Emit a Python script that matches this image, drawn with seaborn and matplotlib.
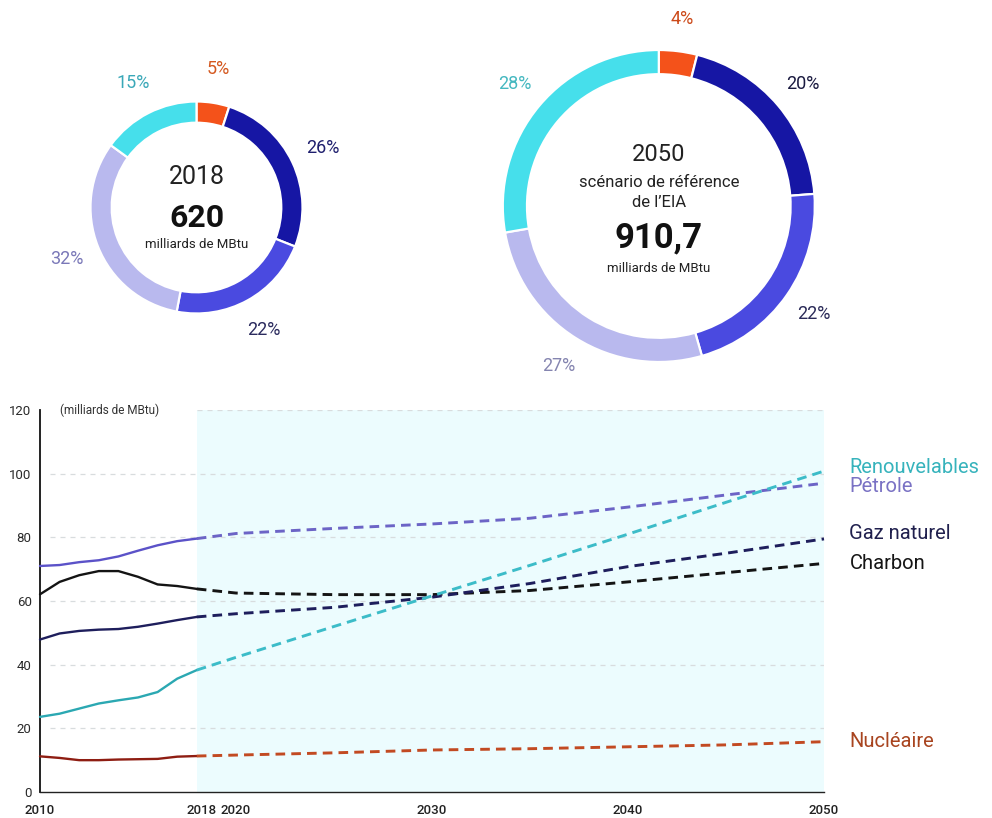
import matplotlib
matplotlib.use("Agg")
import matplotlib.pyplot as plt
import matplotlib.transforms as mtransforms
import numpy as np
import pandas as pd
import seaborn as sns

# ---------------- data ----------------
sources = ["Nucléaire", "Charbon", "Gaz naturel", "Pétrole", "Renouvelables"]
share_2018 = [5, 26, 22, 32, 15]
share_2050 = [4, 20, 22, 27, 28]
total_2018 = "620"
total_2050 = "910,7"

years_hist = [2010, 2011, 2012, 2013, 2014, 2015, 2016, 2017, 2018]
years_proj = [2018, 2020, 2025, 2030, 2035, 2040, 2045, 2050]

petrole_hist = [71.0, 71.3, 72.2, 72.8, 74.0, 75.8, 77.5, 78.8, 79.6]
charbon_hist = [62.1, 66.0, 68.1, 69.4, 69.4, 67.6, 65.2, 64.7, 63.8]
gaz_hist = [47.9, 49.8, 50.6, 51.0, 51.2, 51.9, 52.9, 54.0, 55.0]
renouv_hist = [23.6, 24.6, 26.2, 27.8, 28.8, 29.7, 31.4, 35.6, 38.3]
nucl_hist = [11.2, 10.7, 10.0, 10.0, 10.2, 10.3, 10.4, 11.1, 11.3]

petrole_proj = [79.6, 81.2, 82.8, 84.2, 86.0, 89.5, 93.3, 97.0]
charbon_proj = [63.8, 62.5, 62.0, 62.0, 63.3, 66.0, 68.9, 71.8]
gaz_proj = [55.0, 56.0, 58.0, 61.2, 65.5, 70.8, 75.0, 79.5]
renouv_proj = [38.3, 42.3, 52.0, 61.6, 71.2, 81.0, 91.0, 100.8]
nucl_proj = [11.3, 11.6, 12.3, 13.2, 13.6, 14.2, 14.8, 15.8]

y_ticks = [0, 20, 40, 60, 80, 100, 120]
x_ticks = [2010, 2018, 2020, 2030, 2040, 2050]

# ---------------- styling ----------------
sns.set_theme(style="white")
plt.rcParams["font.family"] = ["Roboto", "DejaVu Sans"]

ring_colors = ["#f4521a", "#1616a4", "#4a4ae0", "#b9b9ee", "#46dfeb"]
label_colors_2018 = ["#d4581f", "#1f1f6e", "#2b2b5e", "#7a78b8", "#3aa8b8"]
label_colors_2050 = ["#cc4a1a", "#1a1a40", "#2a2a58", "#8585b0", "#45b8c0"]

W, H = 992, 818
fig = plt.figure(figsize=(W / 100, H / 100), dpi=100)
fig.patch.set_facecolor("white")


def px_axes(cx, cy, half):
    """Square axes centred on pixel (cx, cy) measured from the top-left."""
    return fig.add_axes([(cx - half) / W, (H - cy - half) / H, 2 * half / W, 2 * half / H])


def donut(cx, cy, radius_px, half_px, values, width, labeldist, label_colors, fs):
    ax = px_axes(cx, cy, half_px)
    lim = half_px / radius_px
    wedges, texts = ax.pie(
        values,
        colors=ring_colors,
        startangle=90,
        counterclock=False,
        labels=[f"{v}%" for v in values],
        labeldistance=labeldist,
        wedgeprops=dict(width=width, edgecolor="white", linewidth=1.6),
        textprops=dict(fontsize=fs),
    )
    for t, c in zip(texts, label_colors):
        t.set_color(c)
        t.set_ha("center")
        t.set_va("center")
    ax.set_xlim(-lim, lim)
    ax.set_ylim(-lim, lim)
    ax.set_aspect("equal")
    ax.axis("off")
    return ax


# 2018 ring
ax1 = donut(196.5, 207.5, 106, 150, share_2018, 0.2, 1.32, label_colors_2018, 13)
ax1.text(0, 0.29, "2018", ha="center", va="center", fontsize=18, color="#222222")
ax1.text(0, -0.10, total_2018, ha="center", va="center", fontsize=23,
         fontweight="bold", color="#111111")
ax1.text(0, -0.35, "milliards de MBtu", ha="center", va="center", fontsize=9.5,
         color="#222222")

# 2050 ring
ax2 = donut(658.8, 206, 156, 200, share_2050, 0.155, 1.21, label_colors_2050, 13)
ax2.text(0, 0.33, "2050", ha="center", va="center", fontsize=17, color="#222222")
ax2.text(0, 0.15, "scénario de référence", ha="center", va="center", fontsize=12,
         color="#222222")
ax2.text(0, 0.025, "de l\u2019EIA", ha="center", va="center", fontsize=12,
         color="#222222")
ax2.text(0, -0.205, total_2050, ha="center", va="center", fontsize=25,
         fontweight="bold", color="#111111")
ax2.text(0, -0.40, "milliards de MBtu", ha="center", va="center", fontsize=9.5,
         color="#222222")

# ---------------- line chart ----------------
ax = fig.add_axes([40 / W, (H - 792) / H, 784 / W, 382 / H])
ax.set_facecolor("white")
ax.set_xlim(2010, 2050)
ax.set_ylim(0, 120)

# projection period background
ax.axvspan(2018, 2050, color="#ecfcfe", zorder=0, lw=0)

# dashed horizontal guides
for yv in y_ticks[1:]:
    start = 2018 if yv == 120 else 2010.5
    ax.hlines(yv, start, 2050, colors="#d8dcde", linestyles=(0, (4, 4)), lw=0.9, zorder=1)

series = [
    ("Pétrole", petrole_hist, petrole_proj, "#5b52c8", "#6c64c6"),
    ("Charbon", charbon_hist, charbon_proj, "#141414", "#141414"),
    ("Gaz naturel", gaz_hist, gaz_proj, "#1e1e5c", "#1e1e5c"),
    ("Renouvelables", renouv_hist, renouv_proj, "#2ba8b2", "#3cbcc8"),
    ("Nucléaire", nucl_hist, nucl_proj, "#8e1d12", "#c24a22"),
]

for name, hist, proj, c_hist, c_proj in series:
    df_h = pd.DataFrame({"annee": years_hist, "valeur": hist})
    df_p = pd.DataFrame({"annee": years_proj, "valeur": proj})
    sns.lineplot(data=df_h, x="annee", y="valeur", ax=ax, color=c_hist, lw=1.7,
                 zorder=3, clip_on=False)
    sns.lineplot(data=df_p, x="annee", y="valeur", ax=ax, color=c_proj, lw=2.1,
                 dashes=False, zorder=3, clip_on=False)
    ax.lines[-1].set_dashes((3.3, 2.1))

# series names on the right
name_pos = {"Renouvelables": 101.8, "Pétrole": 96.1, "Gaz naturel": 81.1,
            "Charbon": 71.9, "Nucléaire": 16.0}
name_col = {"Renouvelables": "#36b3bc", "Pétrole": "#7a72c4", "Gaz naturel": "#20204e",
            "Charbon": "#151515", "Nucléaire": "#a8441f"}
for name in sources:
    ax.text(2051.3, name_pos[name], name, ha="left", va="center", fontsize=14.5,
            color=name_col[name], clip_on=False)

# axes cosmetics
for side in ["top", "right"]:
    ax.spines[side].set_visible(False)
ax.spines["left"].set_color("#111111")
ax.spines["bottom"].set_color("#222222")
ax.spines["left"].set_linewidth(1.3)
ax.spines["bottom"].set_linewidth(1.0)

ax.set_yticks(y_ticks)
ax.set_yticklabels([str(v) for v in y_ticks], fontsize=9.5, color="#2a2a2a")
ax.set_xticks(x_ticks)
ax.set_xticklabels([str(v) for v in x_ticks], fontsize=9.5, color="#222222",
                   fontweight="medium")
ax.set_xticks([2020, 2030, 2040, 2050], minor=True)
ax.tick_params(axis="both", which="major", length=0)
ax.tick_params(axis="y", pad=6)
ax.tick_params(axis="x", pad=9)
ax.tick_params(axis="x", which="minor", direction="in", length=8, width=1.0,
               color="#333333", bottom=True)
ax.set_xlabel("")
ax.set_ylabel("")

# nudge the 2018 label away from 2020
lbl = ax.get_xticklabels()[1]
lbl.set_transform(lbl.get_transform()
                  + mtransforms.ScaledTranslation(5 / 100, 0, fig.dpi_scale_trans))

ax.text(2011.0, 120, "(milliards de MBtu)", ha="left", va="center", fontsize=8.5,
        color="#333333")

fig.savefig("out.png", dpi=100, facecolor="white")
